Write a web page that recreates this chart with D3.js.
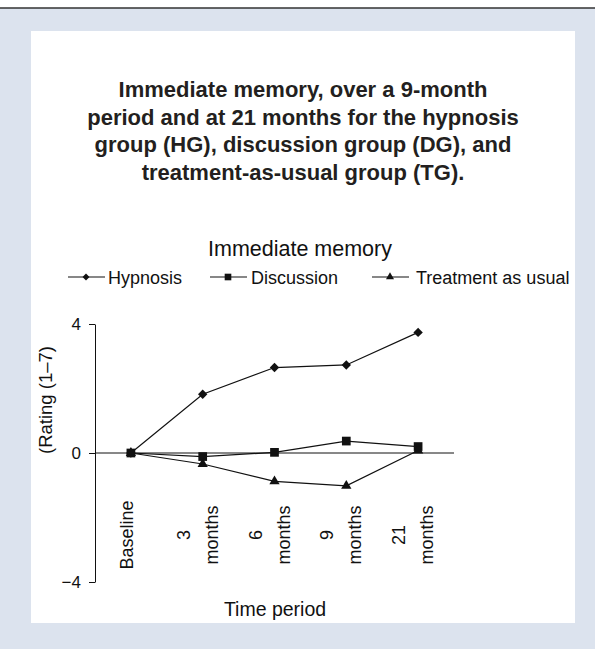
<!DOCTYPE html>
<html>
<head>
<meta charset="utf-8">
<script src="https://cdn.jsdelivr.net/npm/d3@7"></script>
<style>
  body { margin: 0; background: #fff; }
  svg { display: block; }
  .tick text { font-family: "Liberation Sans", Arial, sans-serif; }
</style>
</head>
<body>
<div id="chart"></div>
<script>
// data
const categories = ["Baseline", "3 months", "6 months", "9 months", "21 months"];
const hypnosis = [0, 1.82, 2.65, 2.73, 3.74];
const discussion = [0, -0.11, 0.02, 0.37, 0.2];
const treatment = [0, -0.34, -0.88, -1.02, 0.08];
const yTicks = [-4, 0, 4];
const seriesNames = ["Hypnosis", "Discussion", "Treatment as usual"];
const titleLines = [
  "Immediate memory, over a 9-month",
  "period and at 21 months for the hypnosis",
  "group (HG), discussion group (DG), and",
  "treatment-as-usual group (TG)."
];

function draw() {
  const W = 595, H = 649;
  const font = "'Liberation Sans', Arial, sans-serif";

  const svg = d3.select("#chart")
    .append("svg")
    .attr("width", W)
    .attr("height", H)
    .attr("viewBox", [0, 0, W, H]);

  // background frame
  svg.append("rect").attr("x", 0).attr("y", 0).attr("width", W).attr("height", H).attr("fill", "#fff");
  svg.append("rect").attr("x", 0).attr("y", 8).attr("width", W).attr("height", H - 8).attr("fill", "#dce3ee");
  svg.append("line").attr("x1", 0).attr("x2", W).attr("y1", 8).attr("y2", 8)
    .attr("stroke", "#333").attr("stroke-width", 1.5);
  svg.append("rect").attr("x", 31).attr("y", 31).attr("width", 544).attr("height", 592).attr("fill", "#fff");

  // figure caption
  svg.append("g")
    .selectAll("text")
    .data(titleLines)
    .join("text")
    .attr("x", 303)
    .attr("y", (d, i) => 97 + i * 27.5)
    .attr("text-anchor", "middle")
    .attr("font-family", font)
    .attr("font-weight", "bold")
    .attr("font-size", 22)
    .attr("fill", "#231f20")
    .text(d => d);

  ///////////////////////////////
  // scales
  const xScale = d3.scalePoint()
    .domain(categories)
    .range([95, 454])
    .padding(0.5);

  const yScale = d3.scaleLinear()
    .domain([-4, 4])
    .range([582, 324]);

  // chart title
  svg.append("text")
    .attr("x", 300)
    .attr("y", 256)
    .attr("text-anchor", "middle")
    .attr("font-family", font)
    .attr("font-size", 21.5)
    .attr("fill", "#111")
    .text("Immediate memory");

  ///////////////////////////////
  // y axis
  const yAxis = d3.axisLeft(yScale)
    .tickValues(yTicks)
    .tickSize(6)
    .tickSizeOuter(0)
    .tickPadding(8);

  svg.append("g")
    .attr("transform", "translate(95,0)")
    .call(yAxis)
    .call(g => g.selectAll("text").attr("font-size", 17).attr("fill", "#111"))
    .call(g => g.selectAll("line, path").attr("stroke", "#111"));

  // zero line acting as x axis
  svg.append("line")
    .attr("x1", 95).attr("x2", 454)
    .attr("y1", yScale(0)).attr("y2", yScale(0))
    .attr("stroke", "#111");

  // x category labels, rotated
  const xLab = svg.append("g")
    .selectAll("text")
    .data(categories)
    .join("text")
    .attr("transform", d => `translate(${xScale(d) - 4},535) rotate(-90)`)
    .attr("text-anchor", "middle")
    .attr("font-family", font)
    .attr("font-size", 18)
    .attr("fill", "#111");

  xLab.each(function(d) {
    const parts = d === "Baseline" ? [d] : d.split(" ");
    const t = d3.select(this);
    parts.forEach((p, i) => {
      const off = parts.length === 1 ? 6.5 : (i === 0 ? -9 : 19);
      t.append("tspan").attr("x", 0).attr("y", off).text(p);
    });
  });

  // axis titles
  svg.append("text")
    .attr("transform", "translate(52,400) rotate(-90)")
    .attr("text-anchor", "middle")
    .attr("font-family", font)
    .attr("font-size", 18.5)
    .attr("fill", "#111")
    .text("(Rating (1–7)");

  svg.append("text")
    .attr("x", 275)
    .attr("y", 616)
    .attr("text-anchor", "middle")
    .attr("font-family", font)
    .attr("font-size", 19.5)
    .attr("fill", "#111")
    .text("Time period");

  ///////////////////////////////
  // lines and markers
  const series = [
    {name: seriesNames[0], values: hypnosis, symbol: d3.symbolSquare, size: 44, rot: 45, legendSize: 24},
    {name: seriesNames[1], values: discussion, symbol: d3.symbolSquare, size: 76, rot: 0, legendSize: 44},
    {name: seriesNames[2], values: treatment, symbol: d3.symbolTriangle, size: 46, rot: 0, legendSize: 28}
  ];

  const line = d3.line()
    .x((d, i) => xScale(categories[i]))
    .y(d => yScale(d));

  series.forEach(s => {
    svg.append("path")
      .datum(s.values)
      .attr("d", line)
      .attr("fill", "none")
      .attr("stroke", "#111")
      .attr("stroke-width", 1.2);
  });

  series.forEach(s => {
    svg.append("g")
      .selectAll("path")
      .data(s.values)
      .join("path")
      .attr("d", d3.symbol().type(s.symbol).size(s.size))
      .attr("transform", (d, i) => `translate(${xScale(categories[i])},${yScale(d)}) rotate(${s.rot})`)
      .attr("fill", "#111");
  });

  ///////////////////////////////
  // legend
  const legendX = [86, 228, 390];
  const legendTextX = [108, 251, 416];
  const legendY = 277;
  const legend = svg.append("g");
  series.forEach((s, i) => {
    legend.append("line")
      .attr("x1", legendX[i] - 18).attr("x2", legendX[i] + 19)
      .attr("y1", legendY).attr("y2", legendY)
      .attr("stroke", "#111").attr("stroke-width", 1.1);
    legend.append("path")
      .attr("d", d3.symbol().type(s.symbol).size(s.legendSize))
      .attr("transform", `translate(${legendX[i]},${legendY}) rotate(${s.rot})`)
      .attr("fill", "#111");
    legend.append("text")
      .attr("x", legendTextX[i])
      .attr("y", legendY + 6.5)
      .attr("font-family", font)
      .attr("font-size", 18)
      .attr("fill", "#111")
      .text(s.name);
  });
}

draw();
</script>
</body>
</html>
